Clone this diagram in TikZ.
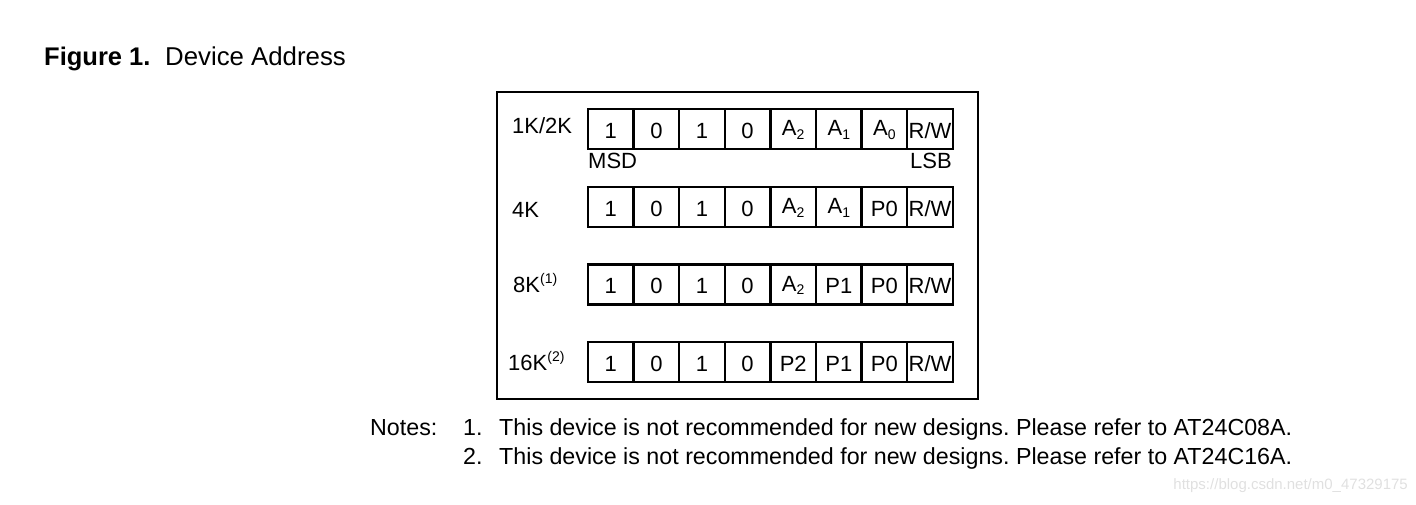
\documentclass[tikz,border=0pt]{standalone}
\usepackage{fontspec}
\setmainfont{Liberation Sans}
\frenchspacing
\newcommand{\subd}[1]{\raisebox{-1pt}{\fontsize{14}{14}\selectfont #1}}
\newcommand{\Asub}[1]{\raisebox{2.5pt}{A}\subd{#1}}
\newcommand{\supn}[1]{\raisebox{9pt}{\fontsize{14}{14}\selectfont #1}}
\begin{document}
\begin{tikzpicture}[x=1pt,y=-1pt,
  txt/.style={inner sep=0pt,anchor=base west,font=\fontsize{22}{25}\selectfont},
  notetxt/.style={inner sep=0pt,anchor=base west,font=\fontsize{23.25}{27}\selectfont},
  cell/.style={draw,line width=2.4pt,minimum width=45.6pt,minimum height=40pt,inner sep=0pt,
    text height=18.6pt,text depth=0pt,font=\fontsize{22}{25}\selectfont},
  frame/.style={draw,line width=2.6pt}]
\useasboundingbox (0,0) rectangle (1416,504);
% title
\node[inner sep=0pt,anchor=base west,font=\fontsize{25.5}{30}\selectfont] (title) at (44,65) {\textbf{Figure 1.}};
\node[inner sep=0pt,anchor=base west,font=\fontsize{25.8}{30}\selectfont] (title2) at (165,65) {Device Address};
% outer frame
\draw[frame] (497,92) rectangle (978,399);
% row labels
\node[txt] (l1) at (512,133) {1K/2K};
\node[txt] (l2) at (512,217) {4K};
\node[txt] (l3) at (513,292.7) {8K\supn{(1)}};
\node[txt] (l4) at (508,370.7) {16K\supn{(2)}};
% rows of cells
\foreach \r/\y/\a/\b/\c in {1/129/\Asub{2}/\Asub{1}/\Asub{0},
                            2/207/\Asub{2}/\Asub{1}/P0,
                            3/284.5/\Asub{2}/P1/P0,
                            4/362/P2/P1/P0}{
  \node[cell] (c\r-1) at (610.8,\y) {1};
  \node[cell] (c\r-2) at (656.4,\y) {0};
  \node[cell] (c\r-3) at (702.0,\y) {1};
  \node[cell] (c\r-4) at (747.6,\y) {0};
  \node[cell] (c\r-5) at (793.2,\y) {\a};
  \node[cell] (c\r-6) at (838.8,\y) {\b};
  \node[cell] (c\r-7) at (884.4,\y) {\c};
  \node[cell] (c\r-8) at (930.0,\y) {R/W};
}
\node[txt] (msd) at (588,168.5) {MSD};
\node[txt,anchor=base east] (lsb) at (952,168.5) {LSB};
% notes
\node[notetxt] (notes) at (370,435.7) {Notes:};
\node[notetxt] (n1) at (463,435.7) {1.};
\node[notetxt] (t1) at (499,435.7) {This device is not recommended for new designs. Please refer to AT24C08A.};
\node[notetxt] (n2) at (463,464) {2.};
\node[notetxt] (t2) at (499,464) {This device is not recommended for new designs. Please refer to AT24C16A.};
% watermark
\node[inner sep=0pt,anchor=base east,font=\fontsize{15}{18}\selectfont,text=black!12] (wm) at (1408,489) {https://blog.csdn.net/m0\_47329175};
\end{tikzpicture}
\end{document}
